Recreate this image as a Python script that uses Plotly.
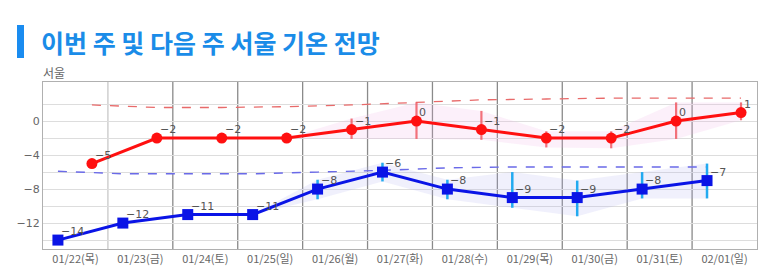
import plotly.graph_objects as go

days = ["01/22(목)", "01/23(금)", "01/24(토)", "01/25(일)", "01/26(월)", "01/27(화)",
        "01/28(수)", "01/29(목)", "01/30(금)", "01/31(토)", "02/01(일)"]
high = [-5, -2, -2, -2, -1, 0, -1, -2, -2, 0, 1]
low = [-14, -12, -11, -11, -8, -6, -8, -9, -9, -8, -7]
high_up = [None, None, None, None, 0.3, 2.2, 1.2, -1.2, -1.2, 2.2, 2.2]
high_dn = [None, None, None, None, -2.1, -2.1, -2.2, -3.1, -3.2, -2.1, 0.1]
low_up = [None, None, None, None, -6.9, -4.9, -6.9, -6.0, -7.0, -6.0, -5.0]
low_dn = [None, None, None, None, -9.2, -7.1, -9.2, -10.2, -11.2, -9.1, -9.1]
high_normal = [1.9, 1.6, 1.6, 1.7, 1.9, 2.2, 2.5, 2.6, 2.7, 2.7, 2.7]
low_normal = [-5.9, -6.2, -6.2, -6.2, -6.0, -5.8, -5.5, -5.4, -5.4, -5.4, -5.4]
y_ticks = [-14, -12, -10, -8, -6, -4, -2, 0, 2]

n = len(days)
xh = [i + 0.754 for i in range(n)]
xl = [i + 0.23 for i in range(n)]
xc = [i + 0.5 for i in range(n)]

def band(vals, up, dn, start):
    u = [vals[start]] + [up[i] for i in range(start + 1, n)]
    d = [vals[start]] + [dn[i] for i in range(start + 1, n)]
    return u, d

fig = go.Figure()

# bands
hu, hd = band(high, high_up, high_dn, 3)
lu, ld = band(low, low_up, low_dn, 3)
fig.add_trace(go.Scatter(x=xh[3:], y=hd, mode="lines", line=dict(width=0), hoverinfo="skip", showlegend=False))
fig.add_trace(go.Scatter(x=xh[3:], y=hu, mode="lines", line=dict(width=0), fill="tonexty",
                         fillcolor="rgba(240,170,230,0.18)", hoverinfo="skip", showlegend=False))
fig.add_trace(go.Scatter(x=xl[3:], y=ld, mode="lines", line=dict(width=0), hoverinfo="skip", showlegend=False))
fig.add_trace(go.Scatter(x=xl[3:], y=lu, mode="lines", line=dict(width=0), fill="tonexty",
                         fillcolor="rgba(170,170,240,0.18)", hoverinfo="skip", showlegend=False))

# normals
fig.add_trace(go.Scatter(x=xh, y=high_normal, mode="lines",
                         line=dict(color="#e86a6a", width=1.3, dash="dash"), showlegend=False))
fig.add_trace(go.Scatter(x=xl, y=low_normal, mode="lines",
                         line=dict(color="#6a6ae8", width=1.4, dash="dash"), showlegend=False))

# error bars
eh_p = [0 if u is None else u - v for u, v in zip(high_up, high)]
eh_m = [0 if d is None else v - d for d, v in zip(high_dn, high)]
el_p = [0 if u is None else u - v for u, v in zip(low_up, low)]
el_m = [0 if d is None else v - d for d, v in zip(low_dn, low)]
fig.add_trace(go.Scatter(x=xh, y=high, mode="markers", marker=dict(size=1, color="rgba(0,0,0,0)"),
                         error_y=dict(type="data", array=eh_p, arrayminus=eh_m, color="rgba(240,90,100,0.85)",
                                      thickness=2.2, width=0), showlegend=False))
fig.add_trace(go.Scatter(x=xl, y=low, mode="markers", marker=dict(size=1, color="rgba(0,0,0,0)"),
                         error_y=dict(type="data", array=el_p, arrayminus=el_m, color="#22aaf0",
                                      thickness=2.5, width=0), showlegend=False))

# main lines
fig.add_trace(go.Scatter(x=xh, y=high, mode="lines+markers",
                         line=dict(color="#ff1010", width=3),
                         marker=dict(symbol="circle", size=11, color="#ff1010"),
                         showlegend=False))
fig.add_trace(go.Scatter(x=xl, y=low, mode="lines+markers",
                         line=dict(color="#0a14e6", width=3),
                         marker=dict(symbol="square", size=11, color="#0a14e6"),
                         showlegend=False))

annotations = []
for xs, vs in ((xh, high), (xl, low)):
    for x, v in zip(xs, vs):
        annotations.append(dict(x=x, y=v, xref="x", yref="y", text=str(v).replace("-", "−"),
                                xanchor="left", yanchor="bottom", xshift=1, yshift=0, showarrow=False,
                                font=dict(color="#555555", size=11, family="DejaVu Sans")))

shapes = []
for i in range(1, n):
    shapes.append(dict(type="line", xref="x", yref="paper", x0=i, x1=i, y0=0, y1=1,
                       line=dict(color="#c8c8c8" if i == 1 else "#8a8a8a", width=1.3), layer="below"))
shapes.append(dict(type="rect", xref="paper", yref="paper", x0=-26 / 714, x1=-19 / 714,
                   y0=(249 - 58) / 167, y1=(249 - 25) / 167, fillcolor="#1a8cf0", line=dict(width=0)))

annotations += [
    dict(text="이번 주 및 다음 주 서울 기온 전망", xref="paper", yref="paper",
         x=-4 / 714, y=(249 - 42) / 167, xanchor="left", yanchor="middle", showarrow=False,
         font=dict(size=25, color="#1a8ce8", family="Noto Sans CJK KR", weight="bold")),
    dict(text="서울", xref="paper", yref="paper", x=-2 / 714, y=(249 - 72) / 167,
         xanchor="left", yanchor="middle", showarrow=False,
         font=dict(size=12, color="#666666", family="Noto Sans CJK KR")),
]

fig.update_layout(
    width=780, height=277,
    margin=dict(l=43, r=23, t=82, b=28),
    paper_bgcolor="white", plot_bgcolor="white",
    shapes=shapes,
    xaxis=dict(range=[0, n], tickvals=xc, ticktext=days, showgrid=False, zeroline=False,
               showline=True, linecolor="#b0b0b0", mirror=True, ticks="",
               tickfont=dict(color="#666666", size=11, family="Noto Sans CJK KR")),
    yaxis=dict(range=[-15.05, 4.6], tickvals=y_ticks,
               ticktext=[str(v).replace("-", "−") if v % 4 == 0 else "" for v in y_ticks],
               showgrid=True, gridcolor="#dddddd", zeroline=False,
               showline=True, linecolor="#b0b0b0", mirror=True, ticks="",
               tickfont=dict(color="#666666", size=11, family="DejaVu Sans")),
    annotations=annotations,
)

fig.write_html("out.html")
